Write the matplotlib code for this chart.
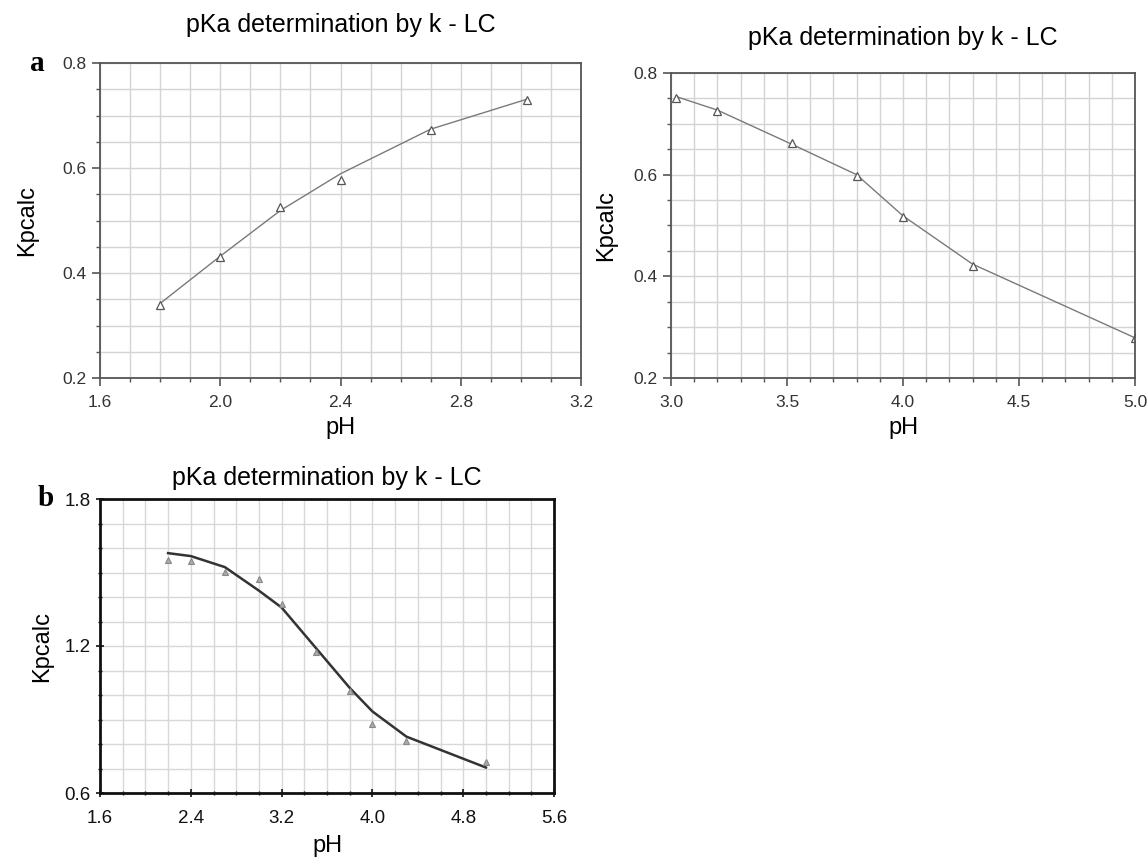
import matplotlib.pyplot as plt
from matplotlib.ticker import MultipleLocator

# panel a (upper left)
ph_a = [1.8, 2.0, 2.2, 2.4, 2.7, 3.02]
kp_a = [0.339, 0.430, 0.526, 0.577, 0.672, 0.730]
fit_a = [0.342, 0.432, 0.519, 0.589, 0.674, 0.731]

# upper right panel
ph_c = [3.02, 3.2, 3.52, 3.8, 4.0, 4.3, 5.0]
kp_c = [0.751, 0.726, 0.662, 0.598, 0.517, 0.421, 0.279]
fit_c = [0.754, 0.727, 0.660, 0.600, 0.519, 0.424, 0.279]

# panel b (lower)
ph_b = [2.2, 2.4, 2.7, 3.0, 3.2, 3.5, 3.8, 4.0, 4.3, 5.0]
kp_b = [1.552, 1.547, 1.501, 1.474, 1.371, 1.177, 1.015, 0.882, 0.812, 0.725]
fit_b = [1.579, 1.567, 1.522, 1.426, 1.357, 1.193, 1.029, 0.933, 0.830, 0.704]

title = 'pKa determination by k - LC'
W, H = 1148, 864

plt.rcParams['font.family'] = ['Liberation Sans', 'DejaVu Sans']
fig = plt.figure(figsize=(W / 100, H / 100), dpi=100)


def box(l, t, r, b):
    return [l / W, 1 - b / H, (r - l) / W, (b - t) / H]


def style(ax, xmaj, xmin, ymaj, ymin, grid='#d4d4d4', spine='#555555', lw=1.3):
    ax.xaxis.set_major_locator(MultipleLocator(xmaj))
    ax.xaxis.set_minor_locator(MultipleLocator(xmin))
    ax.yaxis.set_major_locator(MultipleLocator(ymaj))
    ax.yaxis.set_minor_locator(MultipleLocator(ymin))
    ax.grid(True, which='both', color=grid, lw=1)
    ax.set_axisbelow(True)
    for s in ax.spines.values():
        s.set_color(spine)
        s.set_linewidth(lw)
    ax.tick_params(which='major', length=6, width=1.2, color=spine)
    ax.tick_params(which='minor', length=3, width=1, color=spine)


# --- panel a ---
ax = fig.add_axes(box(100, 63, 581, 378))
ax.plot(ph_a, fit_a, color='#7a7a7a', lw=1)
ax.plot(ph_a, kp_a, ls='none', marker='^', ms=6, mfc='white', mec='#555555', mew=0.9)
ax.set_xlim(1.6, 3.2)
ax.set_ylim(0.2, 0.8)
style(ax, 0.4, 0.1, 0.2, 0.05)
ax.set_xticks([1.6, 2.0, 2.4, 2.8, 3.2], ['1.6', '2.0', '2.4', '2.8', '3.2'])
ax.set_yticks([0.2, 0.4, 0.6, 0.8], ['0.2', '0.4', '0.6', '0.8'])
ax.tick_params(labelsize=12.5, labelcolor='#333333')
ax.tick_params(axis='x', pad=6)
ax.set_xlabel('pH', fontsize=17, labelpad=5)
ax.set_ylabel('Kpcalc', fontsize=17, labelpad=18)
ax.set_title(title, fontsize=18, pad=22)
ax.text(-0.13, 1.0, 'a', transform=ax.transAxes, fontsize=21, fontweight='bold',
        family='Liberation Serif', va='center', ha='center')

# --- upper right panel ---
ax = fig.add_axes(box(671, 73, 1135, 378))
ax.plot(ph_c, fit_c, color='#7a7a7a', lw=1)
ax.plot(ph_c, kp_c, ls='none', marker='^', ms=6, mfc='white', mec='#555555', mew=0.9)
ax.set_xlim(3.0, 5.0)
ax.set_ylim(0.2, 0.8)
style(ax, 0.5, 0.1, 0.2, 0.05)
ax.set_xticks([3.0, 3.5, 4.0, 4.5, 5.0], ['3.0', '3.5', '4.0', '4.5', '5.0'])
ax.set_yticks([0.2, 0.4, 0.6, 0.8], ['0.2', '0.4', '0.6', '0.8'])
ax.tick_params(labelsize=12.5, labelcolor='#333333')
ax.tick_params(axis='x', pad=6)
ax.set_xlabel('pH', fontsize=17, labelpad=5)
ax.set_ylabel('Kpcalc', fontsize=17, labelpad=12)
ax.set_title(title, fontsize=18, pad=20)

# --- panel b ---
ax = fig.add_axes(box(100, 499, 554, 793))
ax.plot(ph_b, fit_b, color='#333333', lw=1.8)
ax.plot(ph_b, kp_b, ls='none', marker='^', ms=5, mfc='#aaaaaa', mec='#888888', mew=0.8)
ax.set_xlim(1.6, 5.6)
ax.set_ylim(0.6, 1.8)
style(ax, 0.8, 0.2, 0.6, 0.1, grid='#d8d8d8', spine='#111111', lw=2)
ax.tick_params(which='both', direction='inout')
ax.set_xticks([1.6, 2.4, 3.2, 4.0, 4.8, 5.6], ['1.6', '2.4', '3.2', '4.0', '4.8', '5.6'],
              fontsize=13.5)
ax.set_yticks([0.6, 1.2, 1.8], ['0.6', '1.2', '1.8'], fontsize=13.5)
ax.tick_params(labelcolor='#111111')
ax.tick_params(axis='x', pad=9)
ax.set_xlabel('pH', fontsize=17, labelpad=6)
ax.set_ylabel('Kpcalc', fontsize=17, labelpad=8)
ax.set_title(title, fontsize=18, pad=10)
ax.text(-0.12, 1.0, 'b', transform=ax.transAxes, fontsize=21, fontweight='bold',
        family='Liberation Serif', va='center', ha='center')

plt.savefig('out.png', dpi=100)
